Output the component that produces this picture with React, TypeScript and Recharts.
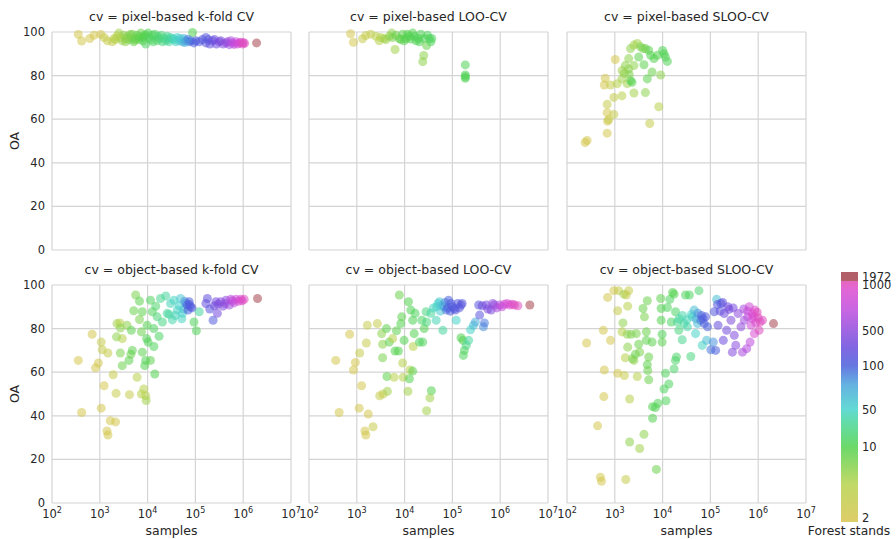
import React from "react";
import {
  ScatterChart,
  Scatter,
  XAxis,
  YAxis,
  ZAxis,
  CartesianGrid,
  Cell,
  BarChart,
  Bar,
} from "recharts";

// [samples, OA, forest stands]
type Pt = [number, number, number];

const xTicks = [1e2, 1e3, 1e4, 1e5, 1e6, 1e7];
const yTicks = [0, 20, 40, 60, 80, 100];
const standTicks = [2, 10, 50, 100, 500, 1000, 1972];
const standTickPos = [0.018, 0.3, 0.449, 0.625, 0.764, 0.949, 0.982];

const pixelKfold: Pt[] = [
  [355, 98.9, 2], [417, 95.9, 2], [617, 97, 2], [759, 98.5, 2], [1047, 98.9, 2], [1230, 97.5, 3],
  [1445, 96, 3], [1820, 95.5, 3], [1995, 97, 4], [2138, 96.5, 4], [2512, 99.5, 5], [2692, 97.5, 5],
  [2951, 96, 5], [3162, 98.5, 6], [3467, 95.5, 6], [3802, 98, 6], [4074, 96.5, 7], [4571, 97.5, 8],
  [4786, 99, 7], [5129, 95.5, 8], [5623, 97, 8], [6026, 98.5, 9], [6607, 96.5, 9], [7244, 99.5, 8],
  [7762, 97.5, 10], [8511, 98, 9], [9120, 94.5, 14], [10233, 99.5, 11], [11482, 96.5, 12], [12589, 98.5, 12],
  [14125, 99, 13], [15849, 96, 14], [17378, 97, 15], [19498, 98.5, 18], [20417, 95.5, 20], [23988, 96, 25],
  [25704, 98, 25], [28184, 95.5, 30], [30200, 97.5, 35], [33113, 97, 40], [38905, 95.5, 45], [41687, 97.5, 50],
  [45709, 96, 55], [53703, 95.5, 60], [57544, 97, 65], [63096, 96, 80], [74131, 95.5, 90], [79433, 96, 95],
  [87096, 99.8, 10], [93325, 95, 100], [102329, 96, 110], [165959, 97.5, 140], [165959, 95, 150], [186209, 96.5, 150],
  [201000, 94.5, 180], [229087, 96, 200], [251000, 96.5, 220], [275423, 94.5, 250], [316228, 95.5, 350], [338844, 96, 300],
  [380189, 94.5, 380], [436516, 95, 500], [467735, 95.5, 500], [512861, 94.2, 550], [549541, 96, 600], [602560, 95, 700],
  [645654, 94.3, 700], [707946, 95.5, 750], [758578, 94.5, 800], [831764, 95, 900], [891251, 95.3, 900], [977237, 94.5, 1000],
  [1000000, 95.2, 1000], [1071519, 94.8, 1000], [1905461, 95, 1972],
  [2300, 98.2, 4], [3500, 97, 6], [4300, 98.8, 7], [5400, 96.3, 8], [6800, 97.8, 9], [8000, 96, 10],
  [9000, 98.7, 10], [11000, 97.6, 12], [13000, 95.5, 14], [16500, 98, 16], [22000, 97.2, 22], [27000, 96.8, 28],
  [36000, 96.5, 42], [48000, 97, 55], [60000, 95.2, 70], [70000, 96.7, 85], [120000, 95.5, 120], [140000, 96.5, 130],
];

const pixelLoo: Pt[] = [
  [741, 99.2, 2], [851, 95.3, 2], [1318, 96.9, 3], [1549, 98.4, 3], [1950, 99, 3], [2512, 98, 4],
  [2951, 96, 4], [3162, 97.5, 4], [3715, 97, 5], [4074, 96.5, 5], [4786, 98, 6], [5370, 99.5, 6],
  [5623, 97.5, 7], [6310, 92, 5], [6607, 98.5, 8], [7762, 97, 8], [8318, 96.5, 9], [9120, 99, 9],
  [9772, 96, 9], [10715, 97, 10], [11482, 99, 10], [12589, 98, 10], [13490, 96.8, 10], [14791, 99.5, 10],
  [16218, 98, 11], [17378, 96, 11], [19498, 97, 11], [20417, 95.5, 11], [21878, 99, 11], [25704, 97, 11],
  [28840, 93.8, 8], [30200, 98.5, 12], [33113, 97, 12], [35481, 95.5, 12], [37154, 97, 12], [25119, 89.2, 6],
  [23988, 86.4, 6], [186209, 84.9, 11], [186209, 80.3, 11], [186209, 79.5, 11], [186209, 78.8, 11],
];

const pixelSloo: Pt[] = [
  [263, 50.2, 2], [240, 49.3, 2], [692, 53.6, 2], [708, 59.1, 2], [741, 59.8, 3], [955, 62.2, 3],
  [692, 63, 2], [692, 66.8, 3], [955, 70, 3], [1413, 70.7, 4], [2512, 72, 5], [4365, 72.2, 6],
  [8318, 65.7, 4], [5370, 58, 3], [631, 78.8, 2], [603, 75.7, 2], [813, 75.7, 3], [1023, 87.4, 2],
  [1122, 76.3, 4], [1413, 78.5, 5], [1820, 76.3, 5], [2138, 77.7, 9], [2291, 76.9, 10], [1413, 82.3, 5],
  [1660, 84.6, 6], [1950, 87.8, 6], [2138, 92.4, 6], [2512, 94, 5], [2951, 94.7, 5], [3467, 93.2, 7],
  [3162, 88.5, 9], [4074, 85, 9], [4365, 92.4, 8], [5129, 91.6, 9], [5623, 89.3, 10], [6026, 81.6, 8],
  [4786, 78.5, 9], [6607, 87.8, 10], [7762, 89.3, 10], [9120, 80.3, 6], [10715, 90, 10], [11482, 88.5, 11],
  [12589, 86.5, 11], [2512, 84.6, 6], [1950, 83, 6], [3890, 92.4, 7], [10000, 91.5, 11], [2000, 80.5, 7],
  [1585, 81, 6],
];

const objectKfold: Pt[] = [
  [355, 65.4, 2], [417, 41.5, 2], [692, 77.4, 2], [813, 62, 2], [933, 64.2, 2], [1072, 73.8, 3],
  [1122, 70.3, 3], [1230, 53.8, 2], [1072, 43.5, 2], [1479, 68.8, 3], [1660, 37.7, 2], [2138, 37.2, 2],
  [1413, 33, 2], [1479, 31.2, 2], [1905, 58.8, 3], [2188, 50.3, 3], [2291, 82.3, 5], [2630, 82.6, 4],
  [2692, 80.3, 6], [2951, 75.4, 4], [2239, 76.2, 6], [2692, 68.8, 7], [2951, 63, 8], [3715, 81.5, 6],
  [4169, 49.7, 3], [4467, 68.2, 8], [4074, 65.4, 9], [4786, 70, 9], [4571, 79.2, 9], [5129, 88.2, 8],
  [5623, 95.4, 7], [6761, 92.6, 9], [6761, 84.2, 7], [6026, 57.7, 4], [7413, 78.5, 8], [7762, 69.2, 9],
  [8710, 63, 10], [8318, 52.3, 4], [9120, 49.2, 4], [9333, 47, 5], [7413, 50, 4], [7762, 87.7, 9],
  [9772, 81.5, 10], [9550, 75.4, 11], [10233, 73.8, 11], [9120, 65.4, 11], [11482, 65.4, 9], [13490, 71.8, 12],
  [14125, 59.2, 10], [11482, 93, 12], [12589, 87.7, 12], [13490, 80, 13], [14791, 90.3, 15], [15849, 85.4, 18],
  [17378, 76.5, 14], [18621, 93.8, 25], [20417, 83, 22], [23988, 95, 30], [25704, 87, 30], [28000, 86.5, 30],
  [30200, 91.5, 40], [33000, 84, 35], [35481, 93, 45], [38000, 86, 40], [41687, 88.5, 45], [45709, 90.5, 50],
  [48978, 93.8, 55], [52000, 84.5, 45], [53703, 87, 50], [57544, 89, 60], [60000, 92.5, 80], [63096, 91.5, 75],
  [67608, 90.8, 100], [70000, 88.5, 100], [74131, 92.3, 110], [75000, 91, 110], [79433, 90, 120], [85000, 89.5, 120],
  [93325, 83, 12], [104713, 79, 11], [120226, 87.7, 30], [165959, 91.5, 200], [177828, 93.8, 180], [200000, 89, 160],
  [234423, 83.8, 120], [250000, 90.5, 250], [269153, 92.3, 300], [288403, 87, 300], [300000, 91.2, 320], [338844, 92.3, 400],
  [380189, 90.3, 400], [420000, 91.5, 480], [436516, 93, 500], [512861, 90.8, 550], [549541, 93.4, 650], [600000, 92.8, 700],
  [645654, 91.8, 700], [707946, 93.5, 800], [800000, 92.5, 850], [891251, 93.5, 900], [950000, 92.8, 950], [1047129, 93.4, 1000],
  [1995262, 93.8, 1972],
];

const objectLoo: Pt[] = [
  [363, 65.4, 2], [427, 41.5, 2], [708, 77.4, 2], [851, 61, 2], [933, 64.5, 2], [1148, 68.8, 3],
  [1259, 53.8, 2], [1122, 43.5, 2], [1585, 73.4, 3], [1738, 40.8, 2], [1479, 33, 2], [1549, 31.2, 2],
  [2188, 35, 3], [1660, 81.5, 3], [2692, 82.3, 3], [3311, 77.7, 6], [3467, 72.8, 6], [3467, 66.6, 7],
  [3020, 49.2, 3], [3548, 50, 3], [4365, 51.2, 5], [4266, 58, 9], [4169, 80, 9], [4786, 73.8, 9],
  [5623, 75.4, 4], [6026, 57.7, 4], [6310, 69.7, 10], [7413, 69.7, 10], [6761, 79, 9], [7762, 95.4, 8],
  [8318, 82.3, 10], [9120, 64.2, 4], [9333, 57.7, 4], [8710, 85.4, 9], [9772, 74.6, 10], [11749, 51.2, 5],
  [12023, 92.3, 10], [12589, 57, 10], [12882, 61, 4], [14791, 60.5, 9], [14791, 83.8, 11], [13490, 88.5, 11],
  [15849, 77.7, 10], [16596, 87, 12], [15136, 71.8, 4], [20417, 73.8, 12], [23988, 73.8, 12], [22909, 83.8, 14],
  [25704, 80, 10], [28184, 87.7, 20], [28840, 83, 20], [28840, 42.3, 5], [36308, 51.5, 10], [33884, 48.2, 5],
  [35481, 87, 30], [40000, 89.5, 45], [45709, 83.8, 40], [46774, 90, 45], [50000, 91.5, 50], [53703, 92.3, 55],
  [56000, 88, 55], [60000, 90.5, 60], [63096, 79.2, 30], [67608, 90, 70], [70000, 92, 80], [74131, 88.5, 90],
  [80000, 89.5, 100], [83176, 93, 100], [90000, 88, 110], [93325, 91.5, 110], [100000, 90, 120], [109648, 89.2, 120],
  [115000, 88.5, 130], [120226, 83.8, 50], [128825, 91.5, 130], [140000, 89.5, 140], [151356, 90.8, 140], [160000, 91.5, 150],
  [151356, 75.8, 10], [165959, 74.6, 10], [177828, 70, 12], [169824, 67.7, 12], [194984, 72.3, 20], [218776, 74.6, 30],
  [239883, 79.5, 50], [275423, 81.5, 60], [301995, 83, 70], [354813, 90.8, 150], [371535, 86.2, 150], [420000, 90.5, 250],
  [446684, 80.8, 80], [467735, 82.6, 90], [512861, 90.8, 300], [550000, 89, 350], [645654, 88.5, 350], [700000, 91.5, 500],
  [758578, 90.8, 500], [850000, 89.5, 600], [977237, 90.8, 650], [1100000, 90, 750], [1230269, 91.2, 800], [1400000, 91.5, 900],
  [1584893, 90.8, 900], [1800000, 91.2, 950], [1995262, 90.8, 1000], [2344229, 90.5, 1000], [4168694, 90.8, 1972],
];

const objectSloo: Pt[] = [
  [257, 73.4, 2], [437, 35.4, 2], [500, 11.8, 2], [525, 10, 2], [589, 48.8, 2], [603, 61, 2],
  [575, 79.2, 2], [708, 94.3, 2], [813, 74.6, 2], [955, 97.4, 2], [1148, 88.2, 3], [1202, 97.4, 3],
  [1148, 59.5, 2], [1413, 78.5, 4], [1479, 82.6, 6], [1549, 95.8, 5], [1585, 58.5, 3], [1698, 10.8, 3],
  [1738, 95.4, 3], [1820, 77.4, 6], [1862, 90.3, 4], [1862, 71.5, 6], [1660, 66.6, 4], [1950, 97.4, 3],
  [2042, 47.7, 4], [2042, 28, 6], [2188, 77.4, 7], [2344, 66.2, 7], [2512, 65.4, 6], [2692, 68.2, 8],
  [2818, 77.7, 7], [2951, 58, 4], [3162, 72.8, 8], [3311, 25, 5], [3311, 69.2, 7], [3890, 89.2, 8],
  [4074, 31.5, 6], [4169, 85.4, 7], [4571, 78.5, 8], [4571, 74.6, 9], [4786, 92.8, 8], [4786, 63.5, 9],
  [4898, 60.8, 8], [5129, 56.5, 8], [5129, 67, 8], [6026, 73.8, 9], [6166, 38.9, 10], [6166, 44.2, 10],
  [7079, 43.8, 11], [7413, 15.4, 8], [7943, 45.7, 11], [9120, 93.8, 9], [9333, 89.2, 10], [9772, 73.8, 9],
  [9772, 77.4, 11], [9333, 83.8, 10], [10715, 52.3, 12], [11482, 59.5, 12], [11749, 46.9, 12], [12589, 89.7, 12],
  [13490, 54.6, 13], [14125, 93.4, 13], [15136, 83, 14], [16218, 96.6, 10], [17378, 95.8, 10], [17378, 61.5, 15],
  [18621, 87.7, 14], [18621, 65.4, 15], [19498, 67, 15], [20417, 83, 25], [21878, 79.2, 20], [22000, 84.5, 30],
  [25704, 74.9, 25], [26000, 86, 35], [28184, 82.3, 30], [30200, 95.4, 12], [32000, 84, 40], [33113, 80.8, 35],
  [36308, 95.4, 13], [38905, 67.2, 20], [40000, 86.5, 50], [41687, 85.4, 45], [45709, 88.5, 60], [48978, 77.7, 50],
  [50000, 84.5, 70], [53703, 82.3, 60], [55000, 87, 80], [57544, 97.4, 15], [63096, 83.8, 90], [65000, 86, 100],
  [67608, 72.3, 45], [70000, 84.5, 110], [74131, 82.3, 110], [79433, 85.4, 120], [83176, 74.6, 60], [87096, 80.8, 100],
  [102329, 70.3, 90], [114815, 73.8, 80], [120226, 87.7, 130], [128825, 70, 100], [134896, 93.4, 60], [140000, 91, 150],
  [144544, 81.5, 200], [160000, 88, 180], [165959, 91.5, 100], [180000, 92, 200], [186209, 74.6, 250], [194984, 86.9, 250],
  [218776, 79.2, 280], [230000, 90, 250], [245471, 88.8, 300], [269153, 83.8, 350], [288403, 69.2, 400], [300000, 89.5, 320],
  [316228, 76.9, 400], [338844, 72.3, 450], [380189, 86.9, 500], [436516, 80.8, 500], [467735, 69.2, 600], [500000, 89, 600],
  [512861, 83.8, 550], [575440, 70.8, 650], [600000, 88, 750], [602560, 85.4, 700], [650000, 90, 800], [676083, 73.8, 700],
  [707946, 81.5, 800], [750000, 87, 900], [758578, 84.6, 850], [800000, 85.5, 900], [831764, 77.7, 900], [850000, 88.5, 950],
  [891251, 82.6, 950], [950000, 87.5, 1000], [1000000, 85, 1000], [1047129, 79.2, 1000], [1096478, 83, 1000], [1230269, 83.8, 1000],
  [2089296, 82.3, 1972],
];

const FONT = "'DejaVu Sans', sans-serif";
const INK = "#262626";
const GRID = "#d4d4d4";

// colourbar stops, bottom (0) to top (1)
const barStops: [number, string][] = [
  [0, "#d8c44e"], [0.15, "#b6d24c"], [0.3, "#52d24f"], [0.4, "#47d69a"], [0.45, "#47d3cc"],
  [0.55, "#4aa4dc"], [0.625, "#4b5fdc"], [0.7, "#6b4bdd"], [0.764, "#8f4bdd"], [0.85, "#bf4bdd"],
  [0.93, "#dc4bcf"], [0.962, "#e04cb4"], [0.963, "#a4434e"], [1, "#a4434e"],
];

function hexRgb(h: string) {
  return [1, 3, 5].map((i) => parseInt(h.slice(i, i + 2), 16));
}

function colorAt(f: number) {
  for (let i = 1; i < barStops.length; i++) {
    const [f1, c1] = barStops[i];
    const [f0, c0] = barStops[i - 1];
    if (f <= f1) {
      const t = f1 === f0 ? 0 : (f - f0) / (f1 - f0);
      const a = hexRgb(c0);
      const b = hexRgb(c1);
      const rgb = a.map((v, k) => Math.round(v + (b[k] - v) * t));
      return `rgb(${rgb.join(",")})`;
    }
  }
  return barStops[barStops.length - 1][1];
}

function standColor(s: number) {
  if (s >= 1500) return "#a4434e";
  let f = standTickPos[0];
  for (let i = 1; i < standTicks.length; i++) {
    if (s <= standTicks[i]) {
      const t = (Math.log(s) - Math.log(standTicks[i - 1])) / (Math.log(standTicks[i]) - Math.log(standTicks[i - 1]));
      f = standTickPos[i - 1] + Math.max(0, t) * (standTickPos[i] - standTickPos[i - 1]);
      break;
    }
  }
  return colorAt(Math.min(f, 0.955));
}

function PowTick({ x, y, payload }: any) {
  const e = Math.round(Math.log10(payload.value));
  return (
    <text x={x} y={y + 7} textAnchor="middle" fontFamily={FONT} fontSize={11.5} fill={INK}>
      10<tspan dy={-5} fontSize={8}>{e}</tspan>
    </text>
  );
}

const NoTick = () => <g />;

const COL_X = [52, 309, 567];
const ROW_Y = [32, 285];
const PW = 239;
const PH = 218;
const PAD_L = 50;
const PAD_T = 6;
const PAD_R = 14;
const PAD_B = 26;

const panels = [
  { title: "cv = pixel-based k-fold CV", data: pixelKfold, col: 0, row: 0 },
  { title: "cv = pixel-based LOO-CV", data: pixelLoo, col: 1, row: 0 },
  { title: "cv = pixel-based SLOO-CV", data: pixelSloo, col: 2, row: 0 },
  { title: "cv = object-based k-fold CV", data: objectKfold, col: 0, row: 1 },
  { title: "cv = object-based LOO-CV", data: objectLoo, col: 1, row: 1 },
  { title: "cv = object-based SLOO-CV", data: objectSloo, col: 2, row: 1 },
];

function Panel({ data, col, row }: { data: Pt[]; col: number; row: number }) {
  const rows = data.map(([x, y, s]) => ({ x, y, s }));
  const showY = col === 0;
  const showX = row === 1;
  return (
    <div style={{ position: "absolute", left: COL_X[col] - PAD_L, top: ROW_Y[row] - PAD_T }}>
      <ScatterChart
        width={PAD_L + PW + PAD_R}
        height={PAD_T + PH + PAD_B}
        margin={{ top: PAD_T, right: PAD_R, left: showY ? 0 : PAD_L - 1, bottom: showX ? 0 : PAD_B - 1 }}
      >
        <CartesianGrid stroke={GRID} strokeWidth={1.2} />
        <XAxis
          type="number"
          dataKey="x"
          scale="log"
          domain={[100, 1e7]}
          ticks={xTicks}
          allowDataOverflow
          interval={0}
          axisLine={false}
          tickLine={false}
          tickSize={6}
          tickMargin={2}
          height={showX ? PAD_B : 1}
          tick={showX ? <PowTick /> : <NoTick />}
        />
        <YAxis
          type="number"
          dataKey="y"
          domain={[0, 100]}
          ticks={yTicks}
          interval={0}
          axisLine={false}
          tickLine={false}
          tickSize={6}
          tickMargin={1}
          width={showY ? PAD_L : 1}
          tick={showY ? { fontFamily: FONT, fontSize: 11.5, fill: INK } : <NoTick />}
        />
        <ZAxis range={[70, 70]} />
        <Scatter data={rows} isAnimationActive={false}>
          {rows.map((r, i) => (
            <Cell key={i} fill={standColor(r.s)} fillOpacity={0.55} />
          ))}
        </Scatter>
      </ScatterChart>
    </div>
  );
}

const cbData = [{ v: 1 }];
const CB_PAD = 10;

function ColorBar() {
  return (
    <div style={{ position: "absolute", left: 841, top: 272 - CB_PAD }}>
      <BarChart
        width={56}
        height={250 + 2 * CB_PAD}
        data={cbData}
        margin={{ top: CB_PAD, right: 0, left: 0, bottom: CB_PAD }}
        barCategoryGap={0}
      >
        <defs>
          <linearGradient id="cbGrad" x1="0" y1="1" x2="0" y2="0">
            {barStops.map(([o, c], i) => (
              <stop key={i} offset={o} stopColor={c} stopOpacity={0.85} />
            ))}
          </linearGradient>
        </defs>
        <XAxis hide />
        <YAxis
          orientation="right"
          type="number"
          domain={[0, 1]}
          ticks={standTickPos}
          interval={0}
          width={39}
          axisLine={false}
          tickLine={false}
          tickSize={2}
          tickMargin={2}
          tickFormatter={(v: number) => String(standTicks[standTickPos.indexOf(v)])}
          tick={{ fontFamily: FONT, fontSize: 11.5, fill: INK, textAnchor: "start" }}
        />
        <Bar dataKey="v" fill="url(#cbGrad)" isAnimationActive={false} />
      </BarChart>
    </div>
  );
}

export default function App() {
  return (
    <div style={{ position: "absolute", left: 0, top: 0, width: 896, height: 539, background: "#fff", fontFamily: FONT }}>
      {panels.map((p) => (
        <Panel key={p.title} data={p.data} col={p.col} row={p.row} />
      ))}
      <ColorBar />
      <svg width={896} height={539} style={{ position: "absolute", left: 0, top: 0, pointerEvents: "none" }}>
        {panels.map((p) => (
          <text
            key={p.title}
            x={COL_X[p.col] + PW / 2}
            y={p.row === 0 ? 21 : 274}
            textAnchor="middle"
            fontFamily={FONT}
            fontSize={12.5}
            fill={INK}
          >
            {p.title}
          </text>
        ))}
        {ROW_Y.map((y) => (
          <text
            key={y}
            x={19}
            y={y + PH / 2}
            transform={`rotate(-90 19 ${y + PH / 2})`}
            textAnchor="middle"
            fontFamily={FONT}
            fontSize={12.5}
            fill={INK}
          >
            OA
          </text>
        ))}
        {COL_X.map((x) => (
          <text key={x} x={x + PW / 2} y={535} textAnchor="middle" fontFamily={FONT} fontSize={12.5} fill={INK}>
            samples
          </text>
        ))}
        <text x={849} y={535} textAnchor="middle" fontFamily={FONT} fontSize={12.3} fill={INK}>
          Forest stands
        </text>
      </svg>
    </div>
  );
}
